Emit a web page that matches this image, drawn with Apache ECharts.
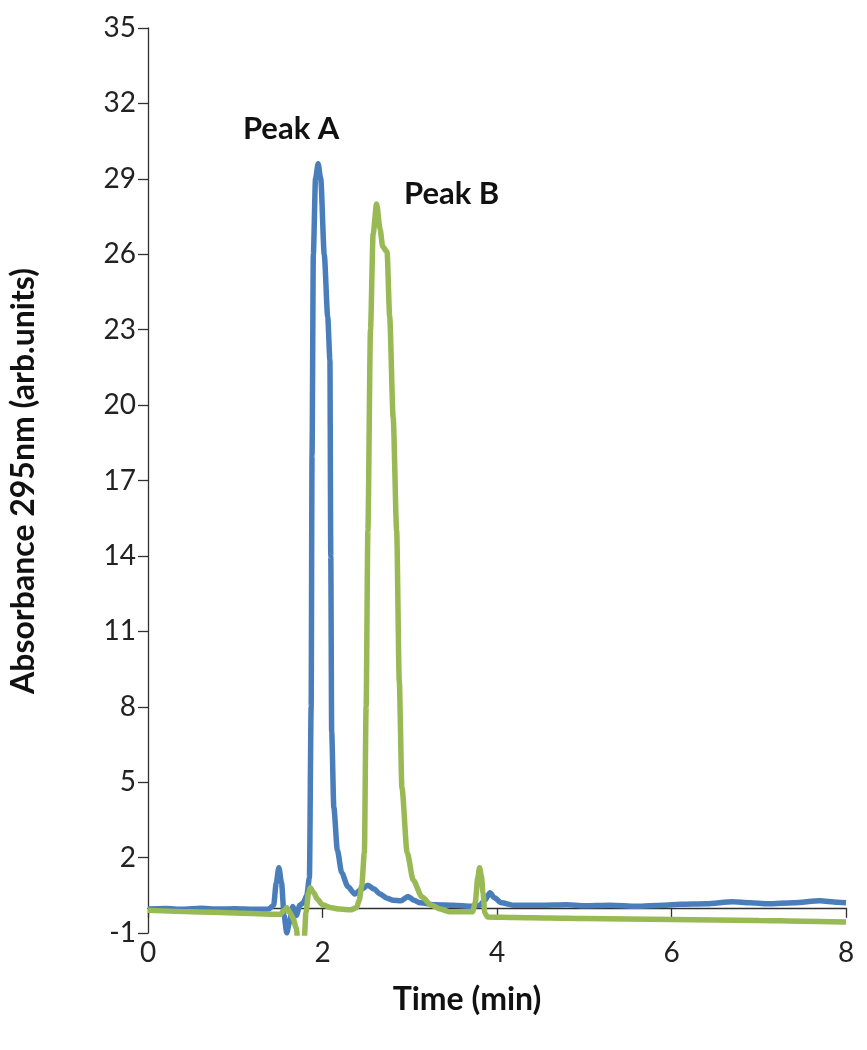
<!DOCTYPE html>
<html>
<head>
<meta charset="utf-8">
<script src="https://cdn.jsdelivr.net/npm/echarts@6/dist/echarts.min.js"></script>
<style>
html,body{margin:0;padding:0;background:#fff;}
#c{width:867px;height:1050px;}
</style>
</head>
<body>
<div id="c"></div>
<script>
// Peak A (blue) trace
var timeA = [0,0.2,0.4,0.6,0.8,1.0,1.2,1.38,1.44,1.47,1.50,1.53,1.56,1.59,1.62,1.66,1.70,1.74,1.78,1.82,1.85,1.87,1.88,1.895,1.92,1.95,1.98,2.02,2.06,2.085,2.095,2.105,2.13,2.17,2.22,2.29,2.37,2.45,2.52,2.59,2.66,2.74,2.81,2.90,2.98,3.05,3.12,3.3,3.5,3.7,3.8,3.86,3.92,3.97,4.05,4.2,4.5,4.8,5.0,5.3,5.6,5.9,6.1,6.4,6.7,6.9,7.1,7.4,7.7,7.9,8.0];
var absA = [-0.05,-0.03,-0.06,-0.02,-0.05,-0.04,-0.06,-0.05,0.1,1.0,1.6,1.0,-0.3,-1.0,-0.6,0.05,-0.3,0.1,0.2,0.5,1.2,8,18,26,29.0,29.6,29.0,26.0,23.5,21.8,14,7,4.0,2.3,1.4,0.85,0.55,0.75,0.9,0.75,0.55,0.38,0.3,0.28,0.45,0.3,0.2,0.12,0.1,0.06,0.1,0.3,0.6,0.4,0.2,0.1,0.1,0.12,0.08,0.1,0.06,0.1,0.14,0.16,0.24,0.2,0.16,0.2,0.28,0.22,0.2];
// Peak B (green) trace
var timeB = [0,0.5,1.0,1.4,1.52,1.56,1.59,1.63,1.66,1.70,1.72,1.76,1.79,1.81,1.84,1.86,1.90,1.94,2.0,2.1,2.2,2.32,2.39,2.42,2.45,2.48,2.50,2.52,2.55,2.58,2.62,2.66,2.69,2.74,2.77,2.81,2.85,2.88,2.91,2.97,3.04,3.14,3.25,3.35,3.45,3.6,3.72,3.75,3.78,3.80,3.82,3.84,3.86,3.89,4.2,4.6,5.0,5.5,6.0,6.5,7.0,7.5,8.0];
var absB = [-0.1,-0.15,-0.2,-0.25,-0.25,-0.1,0.0,-0.2,-0.4,-0.8,-1.5,-1.5,-1.3,-0.2,0.6,0.8,0.6,0.35,0.12,0.0,-0.05,-0.08,0.0,0.3,0.9,2.2,8,15,23,26.8,28.0,27.0,26.3,26.1,23.5,19.5,15.0,9,4.8,2.2,1.1,0.43,0.1,-0.05,-0.15,-0.15,-0.15,0.2,1.2,1.6,1.3,0.6,-0.2,-0.36,-0.38,-0.4,-0.42,-0.44,-0.46,-0.48,-0.5,-0.53,-0.56];
var xTicks = [0,2,4,6,8];
var yTicks = [-1,2,5,8,11,14,17,20,23,26,29,32,35];
var peakNames = ['Peak A','Peak B'];
var peakT = [1.64, 3.48];
var peakV = [31.0, 28.4];

function pairs(t, v){ return t.map(function(x,i){ return [x, v[i]]; }); }

var FONT = 'Lato, "Open Sans", sans-serif';
var chart = echarts.init(document.getElementById('c'));
chart.setOption({
  animation:false,
  backgroundColor:'#fff',
  grid:{left:148, right:21, top:28, bottom:117, containLabel:false},
  xAxis:{
    type:'value', min:xTicks[0], max:xTicks[xTicks.length-1], interval:2,
    axisLine:{show:true, onZero:true, lineStyle:{color:'#303030', width:1.3}},
    axisTick:{show:true, length:10, inside:false, lineStyle:{color:'#303030', width:1.3}},
    axisLabel:{fontFamily:FONT, fontSize:28, color:'#222', margin:6},
    splitLine:{show:false}
  },
  yAxis:{
    type:'value', min:yTicks[0], max:yTicks[yTicks.length-1], interval:3,
    axisLine:{show:true, onZero:false, lineStyle:{color:'#303030', width:1.3}},
    axisTick:{show:true, length:10, lineStyle:{color:'#303030', width:1.3}},
    axisLabel:{fontFamily:FONT, fontSize:28, color:'#222', margin:12},
    splitLine:{show:false}
  },
  series:[
    {type:'line', data:pairs(timeA, absA), showSymbol:false, smooth:0.25, smoothMonotone:'x',
     lineStyle:{color:'#4A7EBB', width:5.5}, z:2},
    {type:'line', data:pairs(timeB, absB), showSymbol:false, smooth:0.25, smoothMonotone:'x',
     lineStyle:{color:'#98B954', width:5.5}, z:3}
  ]
});

var g = [
  {type:'text', x:467, y:1000, style:{text:'Time (min)', align:'center', verticalAlign:'middle', font:'bold 32px '+FONT, fill:'#111'}},
  {type:'text', rotation:Math.PI/2, x:24, y:481, style:{text:'Absorbance 295nm (arb.units)', align:'center', verticalAlign:'middle', font:'bold 32px '+FONT, fill:'#111'}}
];
for (var i = 0; i < peakNames.length; i++) {
  var p = chart.convertToPixel({gridIndex:0}, [peakT[i], peakV[i]]);
  g.push({type:'text', x:p[0], y:p[1], style:{text:peakNames[i], align:'center', verticalAlign:'middle', font:'bold 31px '+FONT, fill:'#111'}});
}
chart.setOption({graphic:g});
</script>
</body>
</html>
